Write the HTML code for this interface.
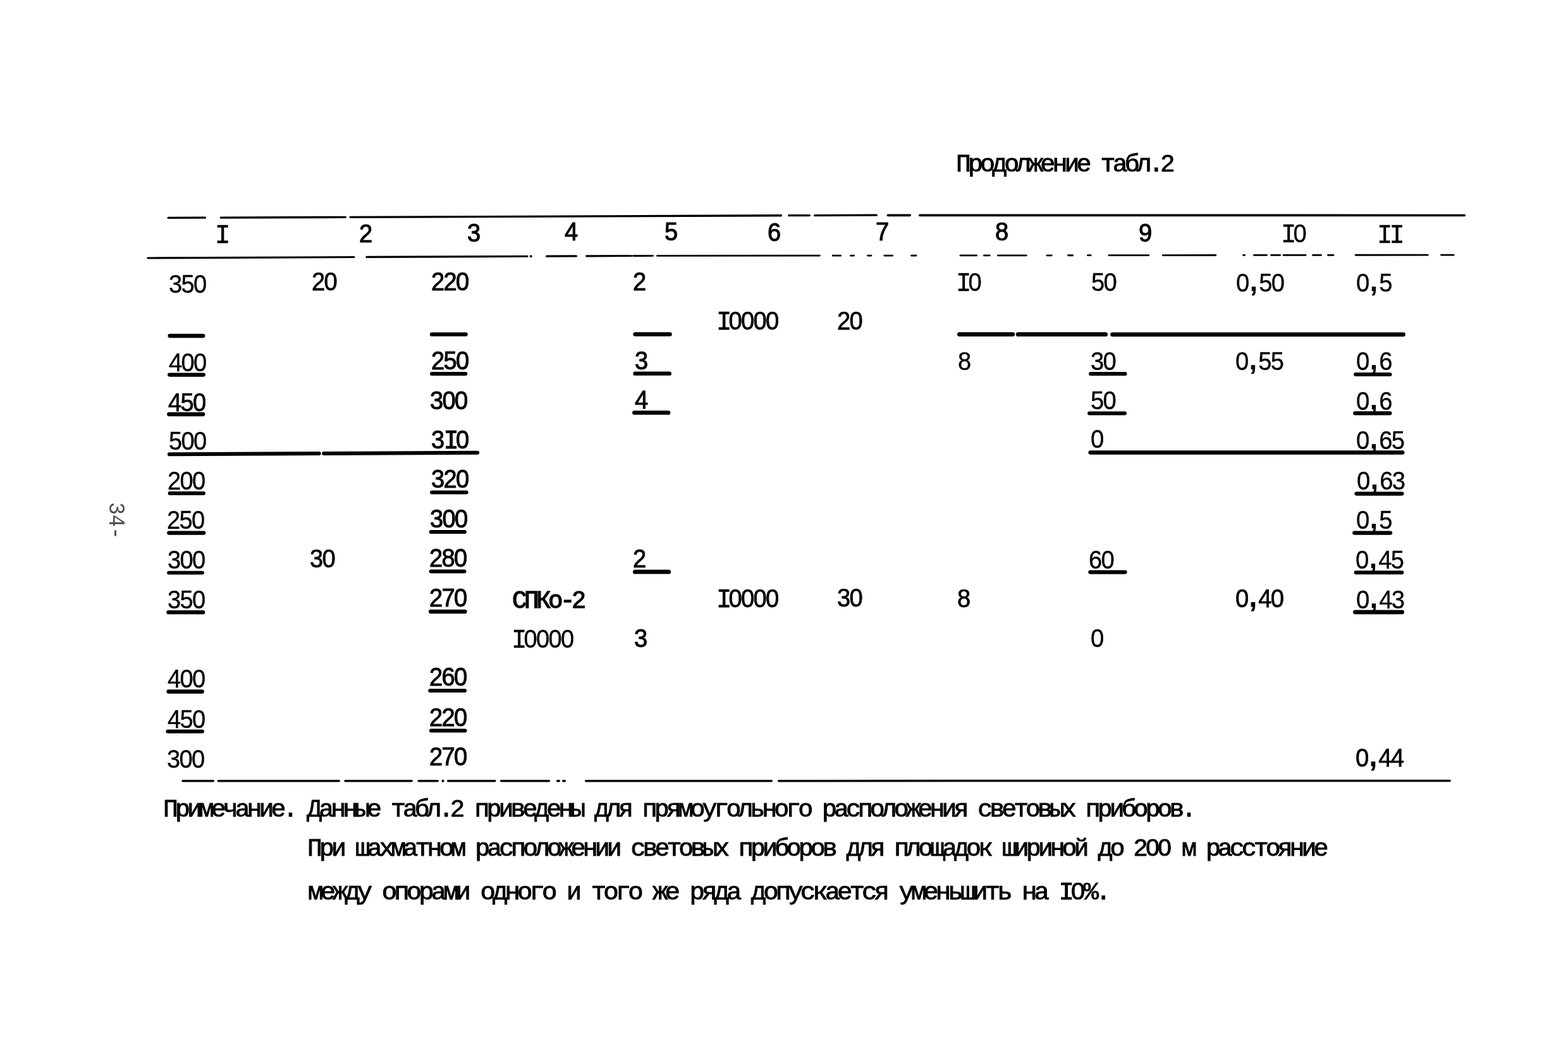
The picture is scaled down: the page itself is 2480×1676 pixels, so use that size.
<!DOCTYPE html>
<html lang="ru"><head><meta charset="utf-8"><title>Продолжение табл.2</title>
<style>
html,body{margin:0;padding:0;background:#fff}
body{width:2480px;height:1676px;position:relative;overflow:hidden;color:#000;font-family:"Liberation Sans",sans-serif}
b{font-weight:normal}
.d{position:absolute;white-space:pre;font-size:40.5px;line-height:1;letter-spacing:-1.78px;transform-origin:0 0;transform:scaleX(0.94);-webkit-text-stroke:.4px #000}
.d .m{font-family:"Liberation Mono",monospace;font-size:43px;line-height:0}
.d .c{font-weight:bold;font-size:45px;line-height:0;position:relative;top:-1px;width:17.77px}
.d .m{width:20.74px}
.d .m,.d .c{display:inline-block;text-align:center;letter-spacing:0}
.h{-webkit-text-stroke:1.1px #000}
.k1{-webkit-text-stroke:.75px #000}
.k2{-webkit-text-stroke:1px #000}
.t{position:absolute;white-space:pre;font-family:"Liberation Mono",monospace;font-size:38.0px;line-height:1;transform-origin:0 0;-webkit-text-stroke:.9px #000}
.tb{-webkit-text-stroke:1.3px #000}
.t .n{font-family:"Liberation Sans",sans-serif;display:inline-block;text-align:center;letter-spacing:0;font-size:37px;line-height:0}
.ln{position:absolute;left:0;top:0;pointer-events:none}
.pg{position:absolute;left:201.2px;top:794px;font-family:"Liberation Mono",monospace;font-size:37px;line-height:1;letter-spacing:-.53px;transform-origin:0 0;transform:rotate(90deg) scaleX(.9);white-space:pre;opacity:.7}
</style></head><body>
<span class="t" style="left:1512.0px;top:241.5px;letter-spacing:-4.66px;transform:scaleX(1.05)">Продолжение табл.<b class="n" style="width:18.14px">2</b></span>
<span class="d k1" style="left:339.5px;top:350.3px"><b class="m">I</b></span>
<span class="d h" style="left:568.3px;top:349.3px">2</span>
<span class="d h" style="left:738.9px;top:348.1px">3</span>
<span class="d h" style="left:892.7px;top:345.9px">4</span>
<span class="d h" style="left:1051.1px;top:345.9px">5</span>
<span class="d h" style="left:1213.5px;top:346.9px">6</span>
<span class="d h" style="left:1384.7px;top:345.7px">7</span>
<span class="d h" style="left:1573.7px;top:345.9px">8</span>
<span class="d h" style="left:1800.5px;top:347.9px">9</span>
<span class="d" style="left:2025.5px;top:348.7px"><b class="m">I</b>0</span>
<span class="d" style="left:2177.5px;top:349.5px"><b class="m">I</b><b class="m">I</b></span>
<span class="d" style="left:266.5px;top:428.7px">350</span>
<span class="d k1" style="left:492.5px;top:425.1px">20</span>
<span class="d k2" style="left:681.5px;top:425.3px">220</span>
<span class="d k2" style="left:1001.3px;top:425.3px">2</span>
<span class="d" style="left:1511.9px;top:426.1px"><b class="m">I</b>0</span>
<span class="d" style="left:1725.9px;top:426.1px">50</span>
<span class="d" style="left:1955.3px;top:426.9px">0<b class="c">,</b>50</span>
<span class="d" style="left:2144.5px;top:427.1px">0<b class="c">,</b>5</span>
<span class="d k1" style="left:1132.5px;top:487.1px"><b class="m">I</b>0000</span>
<span class="d k1" style="left:1324.1px;top:486.9px">20</span>
<span class="d" style="left:266.5px;top:553.3px">400</span>
<span class="d k2" style="left:681.5px;top:550.3px">250</span>
<span class="d k2" style="left:1003.5px;top:550.3px">3</span>
<span class="d" style="left:1514.9px;top:551.3px">8</span>
<span class="d" style="left:1724.5px;top:550.7px">30</span>
<span class="d" style="left:1954.3px;top:551.3px">0<b class="c">,</b>55</span>
<span class="d" style="left:2144.5px;top:550.9px">0<b class="c">,</b>6</span>
<span class="d k1" style="left:265.5px;top:615.5px">450</span>
<span class="d k2" style="left:680.3px;top:613.1px">300</span>
<span class="d k2" style="left:1003.5px;top:611.7px">4</span>
<span class="d" style="left:1724.7px;top:613.1px">50</span>
<span class="d" style="left:2144.7px;top:613.9px">0<b class="c">,</b>6</span>
<span class="d" style="left:266.9px;top:677.1px">500</span>
<span class="d k2" style="left:681.5px;top:675.3px">3<b class="m">I</b>0</span>
<span class="d" style="left:1724.7px;top:674.1px">0</span>
<span class="d" style="left:2144.5px;top:675.5px">0<b class="c">,</b>65</span>
<span class="d" style="left:264.7px;top:740.3px">200</span>
<span class="d k2" style="left:681.5px;top:737.1px">320</span>
<span class="d" style="left:2145.5px;top:739.9px">0<b class="c">,</b>63</span>
<span class="d" style="left:263.5px;top:802.1px">250</span>
<span class="d k2" style="left:680.3px;top:800.3px">300</span>
<span class="d" style="left:2145.3px;top:802.1px">0<b class="c">,</b>5</span>
<span class="d" style="left:264.5px;top:865.3px">300</span>
<span class="d k1" style="left:490.1px;top:863.1px">30</span>
<span class="d k2" style="left:679.3px;top:862.1px">280</span>
<span class="d k2" style="left:1000.5px;top:863.1px">2</span>
<span class="d" style="left:1721.7px;top:865.3px">60</span>
<span class="d" style="left:2143.9px;top:865.3px">0<b class="c">,</b>45</span>
<span class="d" style="left:264.5px;top:927.5px">350</span>
<span class="d k2" style="left:679.3px;top:925.3px">270</span>
<span class="d k1" style="left:1132.5px;top:926.1px"><b class="m">I</b>0000</span>
<span class="d k1" style="left:1324.1px;top:925.1px">30</span>
<span class="d k1" style="left:1514.1px;top:926.1px">8</span>
<span class="d k1" style="left:1953.9px;top:926.1px">0<b class="c">,</b>40</span>
<span class="d" style="left:2144.9px;top:927.7px">0<b class="c">,</b>43</span>
<span class="d" style="left:809.1px;top:990.3px"><b class="m">I</b>0000</span>
<span class="d k2" style="left:1002.5px;top:989.3px">3</span>
<span class="d" style="left:1724.7px;top:989.1px">0</span>
<span class="d" style="left:264.5px;top:1053.3px">400</span>
<span class="d k2" style="left:679.1px;top:1050.1px">260</span>
<span class="d" style="left:264.5px;top:1116.5px">450</span>
<span class="d k2" style="left:679.3px;top:1114.3px">220</span>
<span class="d" style="left:263.5px;top:1179.5px">300</span>
<span class="d k2" style="left:679.3px;top:1176.3px">270</span>
<span class="d k1" style="left:2143.9px;top:1177.7px">0<b class="c">,</b>44</span>
<svg class="ln" width="2480" height="1676" viewBox="0 0 2480 1676" fill="#000" stroke="#000" stroke-linecap="round"><path d="M268.6 531.00L321.2 531.00" stroke-width="6.30"/><path d="M683.0 528.70L736.6 528.70" stroke-width="6.30"/><path d="M1004.6 528.60L1059.5 528.60" stroke-width="6.50"/><path d="M1517.4 528.60L1601.8 528.60" stroke-width="6.80"/><path d="M1610.2 528.70L1748.6 528.70" stroke-width="6.80"/><path d="M1759.5 528.90L2219.5 528.90" stroke-width="6.60"/><path d="M268.1 592.60L321.9 592.60" stroke-width="6.10"/><path d="M682.9 591.00L736.3 591.00" stroke-width="5.90"/><path d="M1004.5 590.70L1058.8 590.70" stroke-width="6.30"/><path d="M1725.0 591.00L1779.5 591.00" stroke-width="5.90"/><path d="M2144.1 592.00L2198.4 592.00" stroke-width="6.10"/><path d="M267.3 655.00L321.1 655.00" stroke-width="6.30"/><path d="M1003.4 652.50L1057.0 652.50" stroke-width="6.70"/><path d="M1723.0 653.50L1779.0 653.50" stroke-width="5.90"/><path d="M2143.2 653.30L2198.3 653.30" stroke-width="6.30"/><path d="M1724.6 715.50L2218.3 715.50" stroke-width="6.30"/><path d="M268.6 780.00L321.8 780.00" stroke-width="6.10"/><path d="M683.0 778.50L737.6 778.50" stroke-width="5.90"/><path d="M2145.4 780.60L2217.4 780.60" stroke-width="6.10"/><path d="M267.3 842.60L322.2 842.60" stroke-width="6.30"/><path d="M681.6 841.00L735.0 841.00" stroke-width="5.90"/><path d="M2142.2 842.60L2199.0 842.60" stroke-width="6.30"/><path d="M267.1 905.60L319.9 905.60" stroke-width="5.90"/><path d="M681.6 903.50L734.5 903.50" stroke-width="5.90"/><path d="M1004.4 904.20L1057.7 904.20" stroke-width="6.70"/><path d="M1724.4 904.60L1779.4 904.60" stroke-width="6.30"/><path d="M2144.6 905.20L2217.2 905.20" stroke-width="6.10"/><path d="M266.5 968.20L321.2 968.20" stroke-width="6.30"/><path d="M681.1 967.00L735.4 967.00" stroke-width="6.30"/><path d="M2143.3 967.80L2217.6 967.80" stroke-width="6.70"/><path d="M266.5 1093.50L319.7 1093.50" stroke-width="6.30"/><path d="M680.3 1092.00L735.0 1092.00" stroke-width="6.10"/><path d="M265.4 1156.50L319.8 1156.50" stroke-width="6.10"/><path d="M682.0 1155.20L735.5 1155.20" stroke-width="6.10"/><path d="M268.0 718.18L504.6 717.02" stroke-width="6.10"/><path d="M512.2 716.98L755.1 715.72" stroke-width="6.10"/><path d="M266.1 344.40L324.4 344.18" stroke-width="3.30"/><path d="M349.3 344.08L546.4 343.35" stroke-width="3.30"/><path d="M554.0 343.32L1235.4 340.77" stroke-width="3.30"/><path d="M1247.6 340.72L1280.4 340.60" stroke-width="3.30"/><path d="M1288.6 340.57L1386.4 340.21" stroke-width="3.30"/><path d="M1404.4 340.30L1439.2 340.31" stroke-width="3.70"/><path d="M1454.8 340.31L2316.2 340.50" stroke-width="3.70"/><path d="M233.9 407.99L559.9 406.51" stroke-width="3.20"/><path d="M579.9 406.41L833.9 405.26" stroke-width="3.20"/><ellipse cx="839.5" cy="405.2" rx="1.5" ry="1.60"/><path d="M864.6 405.12L911.4 404.90" stroke-width="3.20"/><path d="M927.6 404.83L998.4 404.51" stroke-width="3.20"/><path d="M1001.4 404.50L1032.6 404.46" stroke-width="2.80"/><path d="M1039.4 404.46L1296.3 404.18" stroke-width="2.80"/><path d="M1317.2 404.16L1329.6 404.15" stroke-width="2.80"/><path d="M1345.4 404.13L1350.6 404.12" stroke-width="2.80"/><path d="M1372.4 404.10L1378.0 404.09" stroke-width="2.80"/><path d="M1398.8 404.07L1411.6 404.06" stroke-width="2.80"/><path d="M1441.4 404.03L1449.0 404.02" stroke-width="2.80"/><path d="M1518.9 403.94L1544.6 403.91" stroke-width="2.80"/><path d="M1556.4 403.90L1565.2 403.89" stroke-width="2.80"/><path d="M1578.4 403.88L1623.3 403.83" stroke-width="2.80"/><path d="M1655.8 403.79L1663.3 403.79" stroke-width="2.80"/><path d="M1689.4 403.76L1696.6 403.75" stroke-width="2.80"/><path d="M1720.4 403.72L1725.2 403.72" stroke-width="2.80"/><path d="M1753.9 403.69L1816.9 403.62" stroke-width="2.80"/><path d="M1839.1 403.60L1922.8 403.51" stroke-width="2.80"/><path d="M1966.4 403.46L1968.6 403.46" stroke-width="2.80"/><path d="M1983.4 403.44L2003.6 403.42" stroke-width="2.80"/><path d="M2010.4 403.41L2024.6 403.40" stroke-width="2.80"/><path d="M2029.9 403.39L2065.1 403.35" stroke-width="2.80"/><path d="M2076.4 403.34L2089.6 403.33" stroke-width="2.80"/><path d="M2100.4 403.32L2109.1 403.31" stroke-width="2.80"/><path d="M2144.0 403.27L2258.3 403.15" stroke-width="2.80"/><path d="M2279.4 403.12L2299.2 403.10" stroke-width="2.80"/><path d="M289.1 1234.80L337.3 1234.79" stroke-width="3.50"/><path d="M345.2 1234.79L536.2 1234.76" stroke-width="3.50"/><path d="M546.0 1234.76L651.1 1234.75" stroke-width="3.50"/><path d="M662.2 1234.74L692.3 1234.74" stroke-width="3.50"/><ellipse cx="700.5" cy="1234.7" rx="1.5" ry="1.75"/><path d="M708.7 1234.74L782.8 1234.73" stroke-width="3.50"/><path d="M792.7 1234.72L868.3 1234.71" stroke-width="3.50"/><path d="M881.7 1234.71L884.3 1234.71" stroke-width="3.50"/><path d="M890.7 1234.71L893.3 1234.71" stroke-width="3.50"/><path d="M926.7 1234.70L1220.3 1234.66" stroke-width="3.50"/><path d="M1231.7 1234.66L2293.0 1234.50" stroke-width="3.50"/></svg>
<span class="t tb" style="left:810.3px;top:932.0px;letter-spacing:-4.35px;transform:scaleX(1.03)">СПКо-<b class="n" style="width:18.45px">2</b></span>
<span class="t" style="left:257.5px;top:1261.9px;letter-spacing:-4.76px;transform:scaleX(1.05)">Примечание. Данные табл.<b class="n" style="width:18.04px">2</b> приведены для прямоугольного расположения световых приборов.</span>
<span class="t" style="left:486.1px;top:1323.9px;letter-spacing:-4.76px;transform:scaleX(1.05)">При шахматном расположении световых приборов для площадок шириной до <b class="n" style="width:18.04px">2</b><b class="n" style="width:18.04px">0</b><b class="n" style="width:18.04px">0</b> м расстояние</span>
<span class="t" style="left:487.0px;top:1392.5px;letter-spacing:-4.61px;transform:scaleX(1.07)">между опорами одного и того же ряда допускается уменьшить на I<b class="n" style="width:18.19px">0</b>%.</span>
<span class="pg">34-</span>
</body></html>
